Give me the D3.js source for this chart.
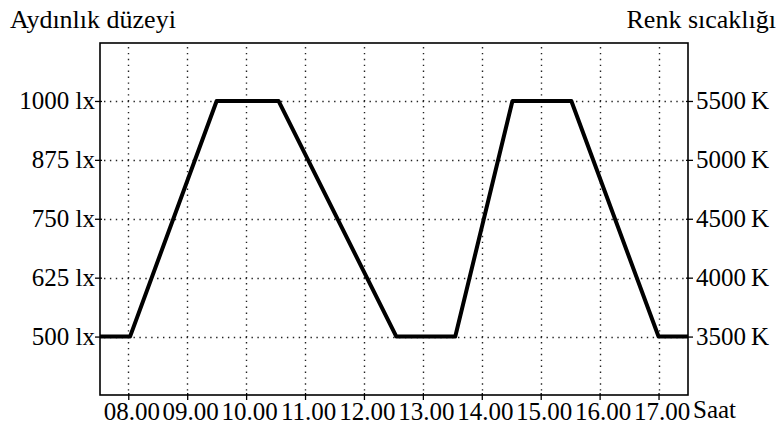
<!DOCTYPE html>
<html>
<head>
<meta charset="utf-8">
<script src="https://cdn.jsdelivr.net/npm/d3@7"></script>
<style>
  html, body { margin: 0; padding: 0; background: #fff; }
  svg text { font-family: 'Liberation Serif', 'Times New Roman', Times, 'Tinos', 'Nimbus Roman', 'FreeSerif', 'Noto Serif', 'DejaVu Serif', 'Noto Serif CJK SC', serif !important; fill: #000; }
</style>
</head>
<body>
<svg id="chart" width="778" height="426"></svg>
<script>
// ---- data ----
const hourTicks = [8, 9, 10, 11, 12, 13, 14, 15, 16, 17];
const hourLabels = ["08.00", "09.00", "10.00", "11.00", "12.00", "13.00", "14.00", "15.00", "16.00", "17.00"];
const luxTicks = [500, 625, 750, 875, 1000];
const luxLabels = ["500 lx", "625 lx", "750 lx", "875 lx", "1000 lx"];
const kelvinLabels = ["3500\u2009K", "4000\u2009K", "4500\u2009K", "5000\u2009K", "5500\u2009K"];
const times = [7.52, 8.03, 9.5, 10.55, 12.55, 13.55, 14.52, 15.52, 17.0, 17.5];
const lux   = [500, 500, 1000, 1000, 500, 500, 1000, 1000, 500, 500];

// ---- layout ----
const svg = d3.select("#chart");
const pL = 100, pR = 688, pT = 43, pB = 395;
const x = d3.scaleLinear().domain([7.52, 17.5]).range([pL, pR]);
const y = d3.scaleLinear().domain([376, 1123]).range([pB, pT]);

// grid
const grid = svg.append("g").attr("stroke", "#222").attr("stroke-width", 1.4)
  .attr("stroke-dasharray", "1.4,4.5").attr("fill", "none");
grid.selectAll("line.v").data(hourTicks).enter().append("line")
  .attr("x1", d => Math.round(x(d)) + 0.5).attr("x2", d => Math.round(x(d)) + 0.5)
  .attr("y1", pT + 4).attr("y2", pB);
grid.selectAll("line.h").data(luxTicks).enter().append("line")
  .attr("y1", d => Math.round(y(d)) + 0.5).attr("y2", d => Math.round(y(d)) + 0.5)
  .attr("x1", pL + 4).attr("x2", pR);

// axes
const fs = 25;
const xAxis = d3.axisBottom(x).tickValues(hourTicks).tickFormat((d, i) => hourLabels[i]).tickSize(5).tickPadding(2);
const gx = svg.append("g").attr("transform", `translate(0,${pB})`).call(xAxis);
const yAxisL = d3.axisLeft(y).tickValues(luxTicks).tickFormat((d, i) => luxLabels[i]).tickSize(5).tickPadding(0);
const gl = svg.append("g").attr("transform", `translate(${pL},0)`).call(yAxisL);
const yAxisR = d3.axisRight(y).tickValues(luxTicks).tickFormat((d, i) => kelvinLabels[i]).tickSize(5).tickPadding(3);
const gr = svg.append("g").attr("transform", `translate(${pR},0)`).call(yAxisR);
[gx, gl, gr].forEach(g => {
  g.attr("font-size", fs);
  g.select(".domain").remove();
  g.selectAll(".tick line").attr("stroke", "#000").attr("stroke-width", 1.3);
  g.selectAll(".tick text").attr("font-size", fs);
});
gl.selectAll(".tick line").attr("x1", 2);
gr.selectAll(".tick line").attr("x1", -2);
gx.selectAll(".tick line").attr("y1", -2);
gx.selectAll(".tick text").attr("dx", 3);

// frame
svg.append("rect").attr("x", pL).attr("y", pT).attr("width", pR - pL).attr("height", pB - pT)
  .attr("fill", "none").attr("stroke", "#000").attr("stroke-width", 1.6);

// line
const line = d3.line().x((d, i) => x(times[i])).y(d => y(d));
svg.append("path").datum(lux).attr("d", line)
  .attr("fill", "none").attr("stroke", "#000").attr("stroke-width", 4)
  .attr("stroke-linejoin", "round").attr("stroke-linecap", "butt");

// titles
svg.append("text").attr("x", 10).attr("y", 28).attr("font-size", 26).text("Aydınlık düzeyi");
svg.append("text").attr("x", 776).attr("y", 28).attr("font-size", 26).attr("text-anchor", "end").text("Renk sıcaklığı");
svg.append("text").attr("x", 693).attr("y", 418).attr("font-size", fs).text("Saat");
</script>
</body>
</html>
